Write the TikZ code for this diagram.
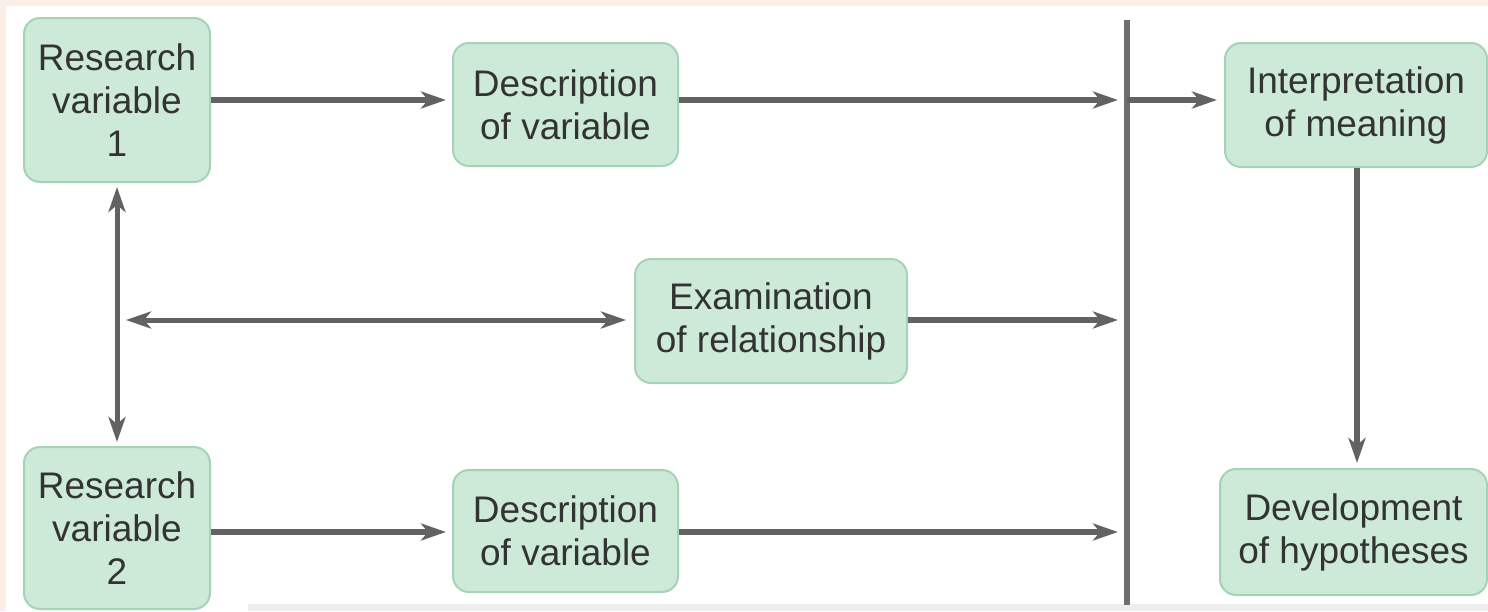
\documentclass[tikz,border=0pt]{standalone}
\usepackage{fontspec}
\setmainfont{Liberation Sans}
\usetikzlibrary{arrows.meta}
\definecolor{boxfill}{HTML}{CDEAD8}
\definecolor{boxedge}{HTML}{A6D2B6}
\definecolor{txt}{HTML}{333333}
\definecolor{arr}{HTML}{626262}
\definecolor{barc}{HTML}{6E6E6E}
\definecolor{pinkbg}{HTML}{FCEDE6}
\definecolor{graybg}{HTML}{EEEEEE}
\tikzset{
  stepbox/.style={draw=boxedge, line width=2pt, fill=boxfill, rounded corners=16pt,
    text=txt, align=center, inner sep=0pt,
    font=\fontsize{37}{43}\selectfont},
  tip/.tip={Stealth[length=25pt,width=17pt,inset=7pt]},
  conn/.style={draw=arr, line width=5.5pt, -tip},
  dconn/.style={draw=arr, line width=5pt, tip-tip},
}
\begin{document}
\begin{tikzpicture}[x=1pt,y=-1pt]
\useasboundingbox (0,0) rectangle (1488,611);
% background
\fill[pinkbg] (0,0) rectangle (1488,611);
\fill[white] (6,6) rectangle (1488,611);
\fill[graybg] (248,604) rectangle (1488,611);
% nodes
\node[stepbox, minimum width=186pt, minimum height=164pt] (rv1) at (117,100) {Research\\variable\\1};
\node[stepbox, minimum width=225pt, minimum height=123pt] (d1) at (565.5,104.5) {Description\\of variable};
\node[stepbox, minimum width=262pt, minimum height=124pt] (interp) at (1356,105) {Interpretation\\of meaning};
\node[stepbox, minimum width=272pt, minimum height=124pt] (exam) at (771,321) {Examination\\of relationship};
\node[stepbox, minimum width=186pt, minimum height=162pt] (rv2) at (117,528) {Research\\variable\\2};
\node[stepbox, minimum width=225pt, minimum height=122pt] (d2) at (565.5,531) {Description\\of variable};
\node[stepbox, minimum width=267pt, minimum height=126pt] (dev) at (1353.5,532) {Development\\of hypotheses};
% vertical bar
\coordinate (bartop) at (1127,20);
\coordinate (barbot) at (1127,605);
\draw[barc, line width=5.5pt] (bartop) -- (barbot);
\coordinate (b1) at (1127,100);
\coordinate (b2) at (1127,320);
\coordinate (b3) at (1127,532);
\coordinate (hl) at (126,320);
% connectors
\draw[conn, shorten >=6pt] (rv1.east |- 0,100) -- (d1.west |- 0,100);
\draw[conn, shorten >=9pt] (d1.east |- 0,100) -- (b1);
\draw[conn, shorten >=7pt] (b1) -- (interp.west |- 0,100);
\draw[dconn, shorten <=4pt, shorten >=4pt] (rv1.south) -- (rv2.north);
\draw[dconn, shorten >=8pt] (hl) -- (exam.west |- 0,320);
\draw[conn, shorten >=9pt] (exam.east |- 0,320) -- (b2);
\draw[conn, shorten >=6pt] (rv2.east |- 0,532) -- (d2.west |- 0,532);
\draw[conn, shorten >=9pt] (d2.east |- 0,532) -- (b3);
\draw[conn, shorten >=5pt] (interp.south -| 1357,0) -- (dev.north -| 1357,0);
\end{tikzpicture}
\end{document}
